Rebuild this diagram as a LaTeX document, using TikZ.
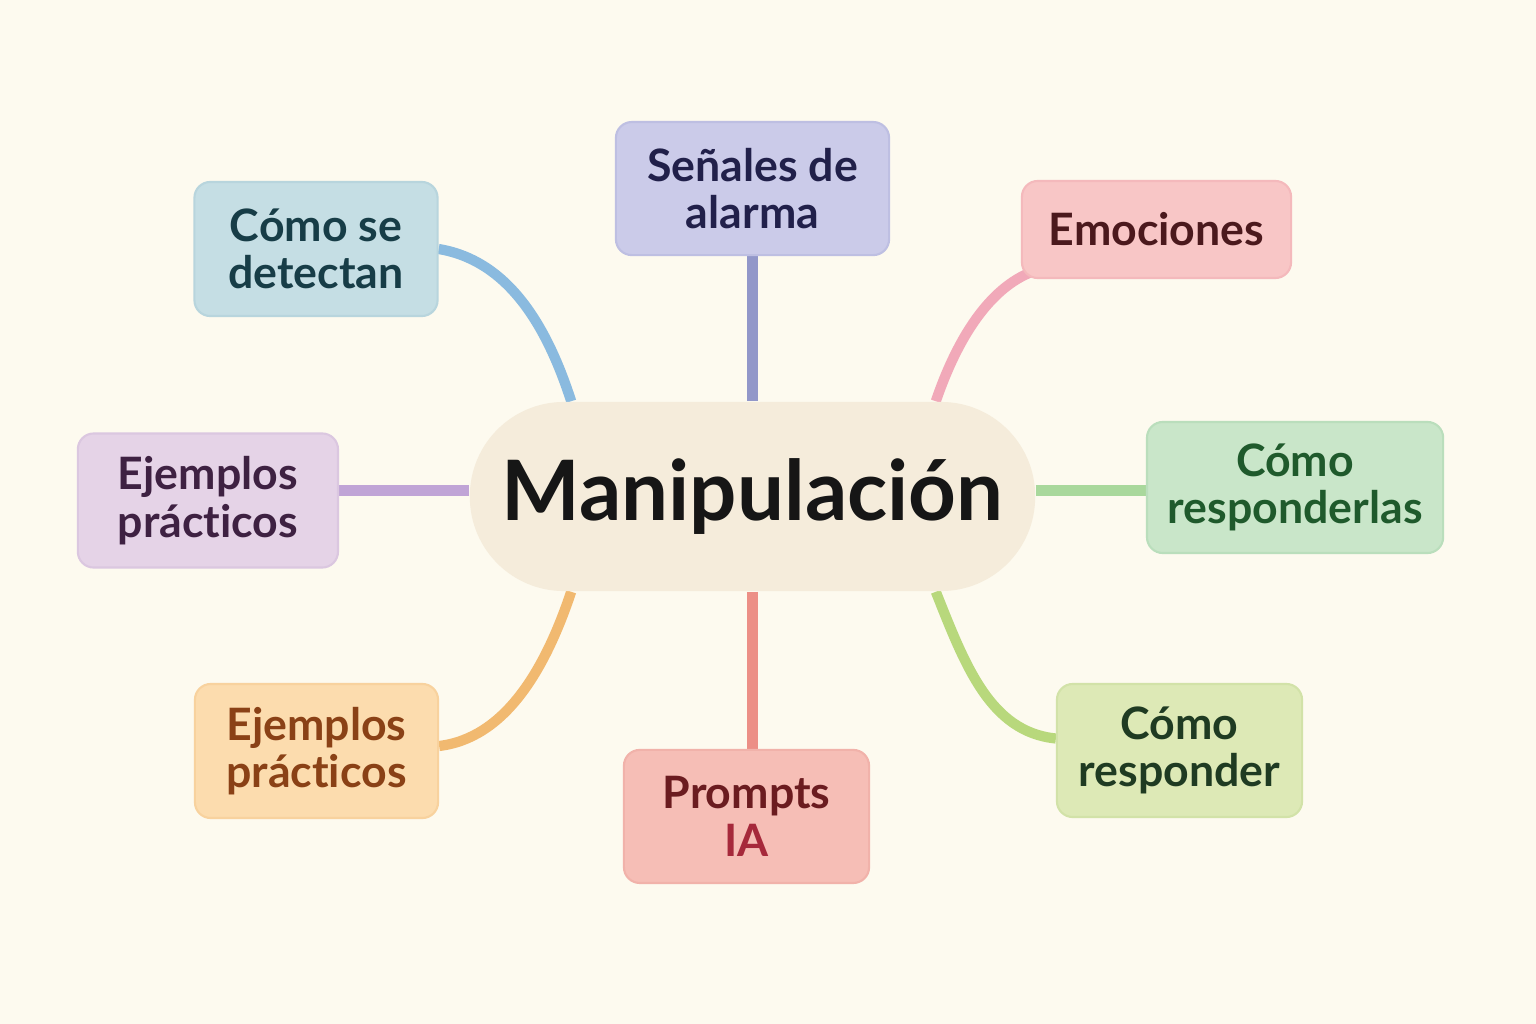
\documentclass[tikz,border=0pt]{standalone}
\usepackage{fontspec}
\setmainfont{Lato}[Ligatures=NoCommon]
\usepackage{tikz}
\usetikzlibrary{positioning,backgrounds}
\definecolor{pageCream}{RGB}{253,250,239}
\definecolor{coreFill}{RGB}{245,236,219}
\definecolor{coreInk}{RGB}{22,22,22}
\definecolor{detectFill}{RGB}{197,222,228}
\definecolor{detectLine}{RGB}{184,213,221}
\definecolor{detectInk}{RGB}{23,61,71}
\definecolor{alarmFill}{RGB}{203,203,233}
\definecolor{alarmLine}{RGB}{190,191,226}
\definecolor{alarmInk}{RGB}{33,32,74}
\definecolor{emoFill}{RGB}{248,198,198}
\definecolor{emoLine}{RGB}{244,185,188}
\definecolor{emoInk}{RGB}{75,25,29}
\definecolor{ejemFill}{RGB}{229,211,231}
\definecolor{ejemLine}{RGB}{219,199,224}
\definecolor{ejemInk}{RGB}{62,33,66}
\definecolor{respFill}{RGB}{201,230,201}
\definecolor{respLine}{RGB}{186,222,188}
\definecolor{respInk}{RGB}{31,90,44}
\definecolor{orangeFill}{RGB}{252,220,174}
\definecolor{orangeLine}{RGB}{248,210,158}
\definecolor{orangeInk}{RGB}{138,65,22}
\definecolor{promptFill}{RGB}{246,190,182}
\definecolor{promptLine}{RGB}{241,178,170}
\definecolor{promptInk}{RGB}{107,28,32}
\definecolor{iaInk}{RGB}{166,41,59}
\definecolor{limeFill}{RGB}{221,233,182}
\definecolor{limeLine}{RGB}{210,226,168}
\definecolor{limeInk}{RGB}{31,59,34}
\definecolor{wireBlue}{RGB}{138,186,223}
\definecolor{wireIndigo}{RGB}{146,151,201}
\definecolor{wirePink}{RGB}{241,169,185}
\definecolor{wireLilac}{RGB}{192,164,214}
\definecolor{wireGreen}{RGB}{169,216,156}
\definecolor{wireOrange}{RGB}{241,185,112}
\definecolor{wireRed}{RGB}{236,143,134}
\definecolor{wireLime}{RGB}{184,216,124}
\tikzset{
  box/.style={rounded corners=4.5pt, line width=0.6pt, align=center, inner sep=0pt,
    font=\fontsize{12.7}{13.5}\selectfont\bfseries},
  corebox/.style={rounded corners=0.94cm, fill=coreFill, text=coreInk, minimum width=5.65cm,
    minimum height=1.89cm, inner sep=0pt, font=\fontsize{23.7}{28}\selectfont\bfseries},
  bluebox/.style={box, draw=detectLine, fill=detectFill, text=detectInk},
  indigobox/.style={box, draw=alarmLine, fill=alarmFill, text=alarmInk},
  pinkbox/.style={box, draw=emoLine, fill=emoFill, text=emoInk},
  lilacbox/.style={box, draw=ejemLine, fill=ejemFill, text=ejemInk},
  greenbox/.style={box, draw=respLine, fill=respFill, text=respInk},
  orangebox/.style={box, draw=orangeLine, fill=orangeFill, text=orangeInk},
  redbox/.style={box, draw=promptLine, fill=promptFill, text=promptInk},
  limebox/.style={box, draw=limeLine, fill=limeFill, text=limeInk},
  wire/.style={line width=2.9pt}
}

\begin{document}
\begin{tikzpicture}[x=0.01cm, y=-0.01cm]
  \path[use as bounding box] (0,0) rectangle (1536,1024);
  % hub
  \node[corebox] (core) at (752.5,496.5) {Manipulación};
  % branches
  \node[indigobox, minimum width=2.73cm, minimum height=1.33cm, above=1.45cm of core] (alarm) {Señales de\\alarma};
  \node[redbox, minimum width=2.45cm, minimum height=1.33cm, below=1.57cm of core, xshift=-0.06cm] (prompts) {Prompts\\\textcolor{iaInk}{IA}};
  \node[lilacbox, minimum width=2.60cm, minimum height=1.34cm, left=1.30cm of core, yshift=-0.04cm] (ejem) {Ejemplos\\prácticos};
  \node[greenbox, minimum width=2.96cm, minimum height=1.31cm, right=1.10cm of core, yshift=0.09cm] (resp) {Cómo\\responderlas};
  \node[bluebox, minimum width=2.43cm, minimum height=1.34cm] (detect) at (316,249) {Cómo se\\detectan};
  \node[pinkbox, minimum width=2.69cm, minimum height=0.97cm] (emo) at (1156.5,229.5) {Emociones};
  \node[orangebox, minimum width=2.43cm, minimum height=1.34cm] (ejemb) at (316.5,751) {Ejemplos\\prácticos};
  \node[limebox, minimum width=2.45cm, minimum height=1.33cm] (respd) at (1179.5,750.5) {Cómo\\responder};
  \begin{scope}[on background layer]
    \fill[pageCream] (0,0) rectangle (1536,1024);
    \draw[wire, wireBlue] (detect.east) .. controls (505,260) and (545,320) .. ([xshift=1.02cm]core.north west);
    \draw[wire, wireIndigo] (alarm.south) -- (core.north);
    \draw[wire, wirePink] ([xshift=0.08cm,yshift=0.06cm]emo.south west) .. controls (985,292) and (955,345) .. ([xshift=-1.00cm]core.north east);
    \draw[wire, wireLilac] ([yshift=0.06cm]core.west) -- ([yshift=0.06cm]core.west -| ejem.east);
    \draw[wire, wireGreen] ([yshift=0.06cm]core.east) -- ([yshift=0.06cm]core.east -| resp.west);
    \draw[wire, wireOrange] ([yshift=0.05cm]ejemb.east) .. controls (505,738) and (545,670) .. ([xshift=1.02cm]core.south west);
    \draw[wire, wireRed] (core.south) -- (core.south |- prompts.north);
    \draw[wire, wireLime] ([xshift=-1.00cm]core.south east) .. controls (965,665) and (990,732) .. ([yshift=0.12cm]respd.west);
  \end{scope}
\end{tikzpicture}
\end{document}
